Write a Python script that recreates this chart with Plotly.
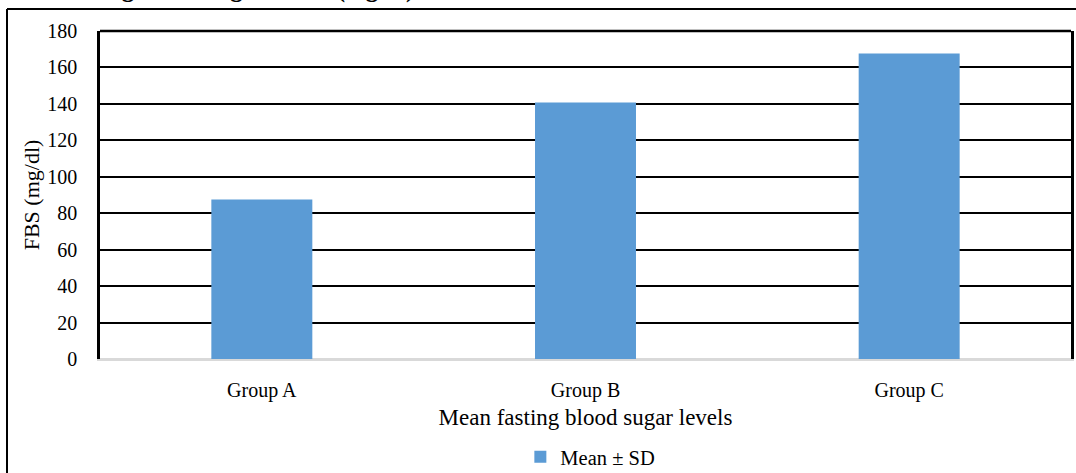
import plotly.graph_objects as go

categories = ["Group A", "Group B", "Group C"]
mean_fbs = [87.5, 140.7, 167.7]
y_ticks = [0, 20, 40, 60, 80, 100, 120, 140, 160, 180]
series_name = "Mean ± SD"
x_title = "Mean fasting blood sugar levels"
y_title = "FBS (mg/dl)"
top_text = "of fasting blood sugar levels (mg/dl)"

W, H = 1076, 473
L, R, T, B = 100, 5, 31, 114
pw = W - L - R
ph = H - T - B

def px_x(p):
    return (p - L) / pw

def px_y(p):
    return (H - B - p) / ph

serif = "Liberation Serif"

fig = go.Figure()
fig.add_trace(go.Bar(
    x=categories, y=mean_fbs, name=series_name,
    marker=dict(color="#5b9bd5", line=dict(width=0)),
    showlegend=True,
))

fig.update_layout(
    width=W, height=H,
    margin=dict(l=L, r=R, t=T, b=B, pad=0, autoexpand=False),
    paper_bgcolor="white", plot_bgcolor="white",
    bargap=0.688,
    font=dict(family=serif, color="black", size=20),
    showlegend=True,
    legend=dict(orientation="h", x=0.505, xanchor="center",
                y=px_y(457), yanchor="middle",
                font=dict(family=serif, size=20.5, color="black"),
                itemwidth=30, tracegroupgap=0, bgcolor="rgba(0,0,0,0)"),
    xaxis=dict(
        automargin=False,
        showline=True, linecolor="#d9d9d9", linewidth=2,
        showgrid=False, ticks="outside", ticklen=12,
        tickcolor="rgba(0,0,0,0)",
        tickfont=dict(family=serif, size=20, color="black"),
        title=dict(text=x_title, font=dict(family=serif, size=23, color="black"),
                   standoff=8),
    ),
    yaxis=dict(
        automargin=False,
        range=[0, 180], tickvals=y_ticks,
        showline=True, mirror=True, linecolor="black", linewidth=2.5,
        showgrid=True, gridcolor="black", gridwidth=2,
        zeroline=True, zerolinecolor="#d9d9d9", zerolinewidth=2,
        ticks="outside", ticklen=16, tickcolor="rgba(0,0,0,0)",
        tickfont=dict(family=serif, size=20, color="black"),
        title=dict(text=y_title, font=dict(family=serif, size=22, color="black"),
                   standoff=2),
    ),
)

# top border of plot area
fig.add_shape(type="line", xref="paper", yref="paper", x0=0, x1=1, y0=1, y1=1,
              line=dict(color="black", width=2.5))
# outer frame (page box)
fig.add_shape(type="line", xref="paper", yref="paper",
              x0=px_x(7), x1=px_x(W + 10), y0=px_y(9), y1=px_y(9),
              line=dict(color="black", width=2))
fig.add_shape(type="line", xref="paper", yref="paper",
              x0=px_x(7), x1=px_x(7), y0=px_y(9), y1=px_y(H + 10),
              line=dict(color="black", width=2))

# cut-off heading at the very top
fig.add_annotation(text="<b>" + top_text + "</b>", xref="paper", yref="paper",
                   x=px_x(33), y=px_y(5), xanchor="left", yanchor="bottom",
                   showarrow=False,
                   font=dict(family=serif, size=25, color="black"))

fig.write_html(
    "out.html",
    config={"displayModeBar": False},
    post_script=(
        "document.documentElement.style.margin='0';"
        "document.documentElement.style.padding='0';"
        "document.documentElement.style.overflow='hidden';"
        "document.body.style.margin='0';"
        "document.body.style.padding='0';"
        "document.body.style.overflow='hidden';"
        "document.body.style.height='473px';"
    ),
)
